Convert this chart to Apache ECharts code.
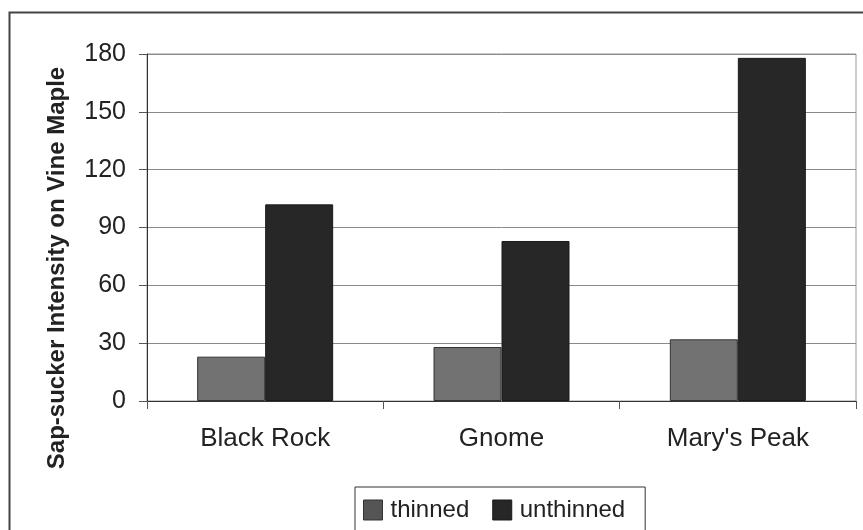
<!DOCTYPE html>
<html>
<head>
<meta charset="utf-8">
<script src="https://cdn.jsdelivr.net/npm/echarts@6/dist/echarts.min.js"></script>
<style>
  html, body { margin: 0; padding: 0; background: #fff; }
  #chart { width: 863px; height: 530px; }
</style>
</head>
<body>
<div id="chart"></div>
<script>
// Sites sampled and sap-sucker intensity per stand treatment
const sites = ["Black Rock", "Gnome", "Mary's Peak"];
const thinned = [23, 28, 32];
const unthinned = [102, 83, 178];
const yTicks = [0, 30, 60, 90, 120, 150, 180];

const FONT = 'Arial, "Liberation Sans", sans-serif';

const chart = echarts.init(document.getElementById('chart'), null, { renderer: 'canvas' });

chart.setOption({
  backgroundColor: '#ffffff',
  animation: false,
  graphic: [
    // outer chart frame
    {
      type: 'rect',
      shape: { x: 9.5, y: 12.5, width: 900, height: 600 },
      style: { fill: 'none', stroke: '#444', lineWidth: 2 },
      z: 0
    },
    // rotated value-axis title
    {
      type: 'text',
      x: 57,
      y: 268,
      rotation: Math.PI / 2,
      style: {
        text: 'Sap-sucker Intensity on Vine Maple',
        font: 'bold 24px ' + FONT,
        fill: '#222',
        align: 'center',
        verticalAlign: 'middle'
      }
    }
  ],
  grid: {
    left: 147,
    right: 7,
    top: 54,
    bottom: 129,
    show: true,
    borderColor: '#999',
    borderWidth: 1
  },
  legend: {
    left: 355,
    top: 487,
    orient: 'horizontal',
    icon: 'rect',
    itemWidth: 19,
    itemHeight: 20,
    itemGap: 23,
    padding: [11, 20, 40, 8],
    borderColor: '#333',
    borderWidth: 1,
    backgroundColor: '#fff',
    textStyle: { fontFamily: FONT, fontSize: 24, color: '#222', padding: [0, 0, 0, 3] },
    data: [
      { name: 'thinned', itemStyle: { color: '#555', borderColor: '#333', borderWidth: 1 } },
      { name: 'unthinned', itemStyle: { color: '#272727', borderColor: '#1a1a1a', borderWidth: 1 } }
    ]
  },
  xAxis: {
    type: 'category',
    data: sites,
    axisLine: { lineStyle: { color: '#333', width: 1 } },
    axisTick: { show: true, length: 8, lineStyle: { color: '#555' } },
    axisLabel: { fontFamily: FONT, fontSize: 26, color: '#222', margin: 25 }
  },
  yAxis: {
    type: 'value',
    min: yTicks[0],
    max: yTicks[yTicks.length - 1],
    interval: yTicks[1] - yTicks[0],
    axisLine: { show: true, lineStyle: { color: '#333', width: 1 } },
    axisTick: { show: true, length: 8, lineStyle: { color: '#555' } },
    splitLine: { show: true, lineStyle: { color: '#8a8a8a', width: 1 } },
    axisLabel: { fontFamily: FONT, fontSize: 25, color: '#222', margin: 21 }
  },
  series: [
    {
      name: 'thinned',
      type: 'bar',
      data: thinned,
      barWidth: 68,
      barGap: '0%',
      itemStyle: { color: '#727272', borderColor: '#333', borderWidth: 1 }
    },
    {
      name: 'unthinned',
      type: 'bar',
      data: unthinned,
      barWidth: 68,
      itemStyle: { color: '#272727', borderColor: '#1a1a1a', borderWidth: 1 }
    }
  ]
});
</script>
</body>
</html>
